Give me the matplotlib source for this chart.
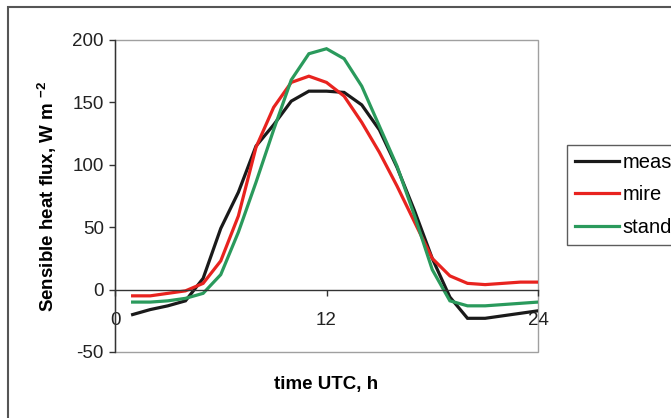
import matplotlib
matplotlib.use("Agg")
import matplotlib.pyplot as plt
from matplotlib.patches import Rectangle

plt.rcParams['font.family'] = ['Liberation Sans', 'DejaVu Sans']
plt.rcParams['mathtext.default'] = 'regular'
plt.rcParams['axes.unicode_minus'] = False

# hourly values, UTC hour 1..24
hours = list(range(1, 25))
meas = [-20, -16, -13, -9, 9, 49, 78, 115, 132, 151, 159, 159,
        158, 148, 128, 98, 63, 25, -6, -23, -23, -21, -19, -17]
mire = [-5, -5, -3, -1, 5, 23, 59, 114, 146, 166, 171, 166,
        155, 134, 110, 83, 54, 25, 11, 5, 4, 5, 6, 6]
stand = [-10, -10, -9, -7, -3, 12, 46, 86, 128, 168, 189, 193,
         185, 163, 131, 99, 59, 16, -9, -13, -13, -12, -11, -10]

series_labels = ["measured", "mire", "standard"]
colors = ["#1a1a1a", "#e8231f", "#2a9a5c"]

xticks = [0, 12, 24]
yticks = [-50, 0, 50, 100, 150, 200]

fig = plt.figure(figsize=(6.71, 4.18), dpi=100)
ax = fig.add_axes([115 / 671, 1 - 352 / 418, 423 / 671, 312 / 418])

for vals, lab, c in zip([meas, mire, stand], series_labels, colors):
    ax.plot(hours, vals, color=c, lw=2.3, label=lab, solid_joinstyle='miter')

ax.set_xlim(0, 24)
ax.set_ylim(-50, 200)
ax.set_xticks(xticks)
ax.set_yticks(yticks)

# grey plot-area frame
ax.add_patch(Rectangle((0, 0), 1, 1, transform=ax.transAxes, fill=False,
                       edgecolor="#a0a0a0", lw=1.0, clip_on=False, zorder=0.5))
for s in ['top', 'right']:
    ax.spines[s].set_visible(False)
ax.spines['bottom'].set_position(('data', 0))
ax.spines['bottom'].set_color('#333333')
ax.spines['left'].set_color('#333333')
ax.spines['bottom'].set_linewidth(1.0)
ax.spines['left'].set_linewidth(1.0)

ax.tick_params(axis='y', direction='out', length=4, width=1, color='#333333',
               labelsize=13.5, pad=4, labelcolor='#222222')
ax.tick_params(axis='x', direction='out', length=4, width=1, color='#333333',
               labelsize=13.5, pad=12, labelcolor='#222222')

ax.set_xlabel("time UTC, h", fontsize=13.5, fontweight='bold', labelpad=34)
ax.set_ylabel(r"Sensible heat flux, W m $^{-2}$", fontsize=13.5,
              fontweight='bold', labelpad=10)

# legend runs past the right edge, as in the original crop
fig.legend(loc='lower left', bbox_to_anchor=(567 / 671, 1 - 245 / 418),
           frameon=True, fancybox=False, edgecolor='#333333', fontsize=14.5,
           handlelength=2.2, handletextpad=0.15, labelspacing=0.68,
           borderpad=0.4, borderaxespad=0)
fig.legends[0].get_frame().set_linewidth(1.0)

# outer chart border (cut off on the right and bottom)
fig.patches.append(Rectangle((8 / 671, -0.1), 2, 1 - 7 / 418 + 0.1,
                             transform=fig.transFigure, fill=False,
                             edgecolor='#555555', lw=1.5))

fig.savefig("out.png", dpi=100)
